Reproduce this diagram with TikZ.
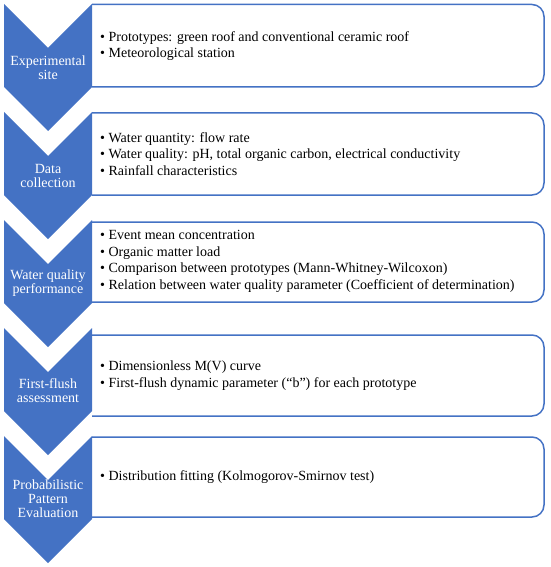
\documentclass[tikz,border=0pt]{standalone}
\usepackage{fontspec}
\setmainfont{Liberation Serif}
\definecolor{offblue}{HTML}{4472C4}
\tikzset{
  chev/.style={fill=offblue, draw=none},
  boxst/.style={draw=offblue, line width=1.5pt, rounded corners=12pt},
  chevtext/.style={text=white, align=center, inner sep=0pt, font=\fontsize{14}{14}\selectfont},
  itemtext/.style={text=black, align=left, anchor=west, inner sep=0pt, font=\fontsize{14}{16.5}\selectfont}
}
\newcommand{\chevshape}[2]{% top, bottom (body)
  \path[chev] (4,-#1) -- (48,-#1-44) -- (92,-#1) -- (92,-#2) -- (48,-#2-44) -- (4,-#2) -- cycle;}
\newcommand{\boxshape}[2]{%
  \draw[boxst] (92,-#1) -- (544,-#1) -- (544,-#2) -- (92,-#2);}
\begin{document}
\begin{tikzpicture}[x=1pt,y=1pt]
\useasboundingbox (0,0) rectangle (550,-567);
% boxes
\boxshape{4.5}{87}
\boxshape{113}{195}
\boxshape{222}{302}
\boxshape{335}{416}
\boxshape{437}{517}
% chevrons
\chevshape{4}{87}
\chevshape{112}{195}
\chevshape{220}{303}
\chevshape{328}{411}
\chevshape{436}{519}
% chevron labels
\node[chevtext] (c1) at (48,-68) {Experimental\\site};
\node[chevtext] (c2) at (48,-175.5) {Data\\collection};
\node[chevtext] (c3) at (48,-283) {Water quality\\performance};
\node[chevtext] (c4) at (48,-390.5) {First-flush\\assessment};
\node[chevtext] (c5) at (48,-499) {Probabilistic\\Pattern\\Evaluation};
% box texts
\node[itemtext] (t1) at (100,-46) {• Prototypes: green roof and conventional ceramic roof\\• Meteorological station};
\node[itemtext] (t2) at (100,-154) {• Water quantity: flow rate\\• Water quality: pH, total organic carbon, electrical conductivity\\• Rainfall characteristics};
\node[itemtext] (t3) at (100,-261.5) {• Event mean concentration\\• Organic matter load\\• Comparison between prototypes (Mann-Whitney-Wilcoxon)\\• Relation between water quality parameter (Coefficient of determination)};
\node[itemtext] (t4) at (100,-375.5) {• Dimensionless M(V) curve\\• First-flush dynamic parameter (“b”) for each prototype};
\node[itemtext] (t5) at (100,-477) {• Distribution fitting (Kolmogorov-Smirnov test)};
\end{tikzpicture}
\end{document}
